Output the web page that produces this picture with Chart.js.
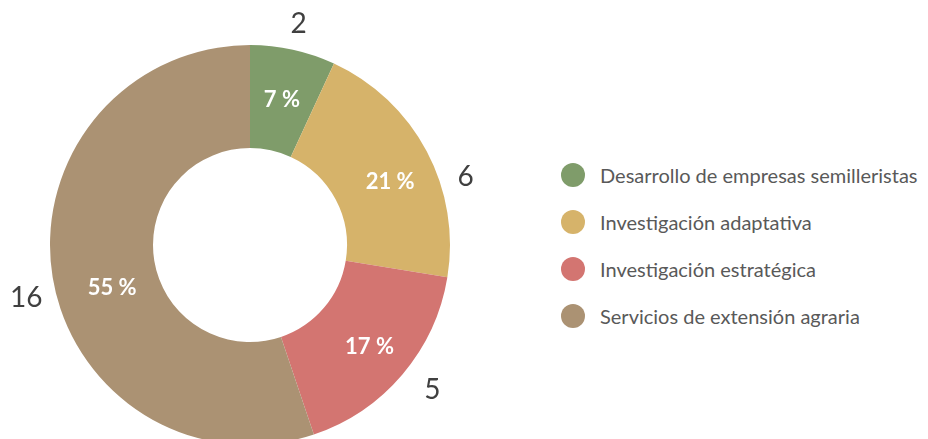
<!DOCTYPE html>
<html>
<head>
<meta charset="utf-8">
<script src="https://cdn.jsdelivr.net/npm/chart.js@4/dist/chart.umd.min.js"></script>
<style>
  html, body { margin: 0; padding: 0; background: #fff; overflow: hidden; width: 928px; height: 439px; }
  #wrap { position: absolute; left: 0; top: 0; width: 500px; height: 490px; }
  #legend { position: absolute; left: 561px; top: 158px; list-style: none; margin: 0; padding: 0;
            font-family: Lato, sans-serif; font-size: 20px; color: #595959; }
  #legend li { height: 47px; line-height: 34px; display: flex; align-items: flex-start; white-space: nowrap; }
  #legend span.dot { display: inline-block; width: 24px; height: 24px; border-radius: 50%; margin: 5px 15px 0 0; }
</style>
</head>
<body>
<div id="wrap"><canvas id="myChart" width="500" height="490"></canvas></div>
<ul id="legend"></ul>
<script>
// data
var categorias = ["Desarrollo de empresas semilleristas", "Investigación adaptativa", "Investigación estratégica", "Servicios de extensión agraria"];
var valores = [2, 6, 5, 16];
var colores = ["#7f9c6a", "#d6b36a", "#d37571", "#ab9273"];

// where the labels sit inside each slice (fraction of angle / of ring thickness)
var angFrac = [0.5, 0.55, 0.5, 0.46];
var radFrac = [0.5, 0.55, 0.58, 0.46];
var outerGap = [26, 26, 33, 30];
var outerAng = [0.5, 0.64, 0.47, 0.48];

var total = valores.reduce(function (a, b) { return a + b; }, 0);

var etiquetas = {
    id: "etiquetas",
    afterDatasetsDraw: function (chart) {
        var ctx = chart.ctx;
        var meta = chart.getDatasetMeta(0);
        ctx.save();
        ctx.textAlign = "center";
        ctx.textBaseline = "middle";
        for (let i = 0; i < meta.data.length; i++) {
            let arc = meta.data[i];
            let p = arc.getProps(["x", "y", "startAngle", "endAngle", "innerRadius", "outerRadius"], true);
            // percentage, white bold
            let a = p.startAngle + (p.endAngle - p.startAngle) * angFrac[i];
            let r = p.innerRadius + (p.outerRadius - p.innerRadius) * radFrac[i];
            ctx.fillStyle = "#ffffff";
            ctx.font = "bold 22px Lato";
            ctx.fillText(Math.round(valores[i] / total * 100) + " %", p.x + Math.cos(a) * r, p.y + Math.sin(a) * r);
            // value outside
            let a2 = p.startAngle + (p.endAngle - p.startAngle) * outerAng[i];
            let r2 = p.outerRadius + outerGap[i];
            ctx.fillStyle = "#404040";
            ctx.font = "28px Lato";
            ctx.fillText(valores[i], p.x + Math.cos(a2) * r2, p.y + Math.sin(a2) * r2);
        }
        ctx.restore();
    }
};

var myChart = new Chart(document.getElementById("myChart"), {
    type: "doughnut",
    data: {
        labels: categorias,
        datasets: [{
            data: valores,
            backgroundColor: colores,
            borderWidth: 0,
        }],
    },
    options: {
        responsive: false,
        animation: false,
        cutout: "48.5%",
        layout: { padding: { left: 50, right: 50, top: 45, bottom: 45 } },
        plugins: {
            legend: { display: false },
            tooltip: { enabled: false },
        },
    },
    plugins: [etiquetas],
});

// legend
var ul = document.getElementById("legend");
for (let i = 0; i < categorias.length; i++) {
    let li = document.createElement("li");
    li.innerHTML = '<span class="dot" style="background:' + colores[i] + '"></span>' + categorias[i];
    ul.appendChild(li);
}
</script>
</body>
</html>
